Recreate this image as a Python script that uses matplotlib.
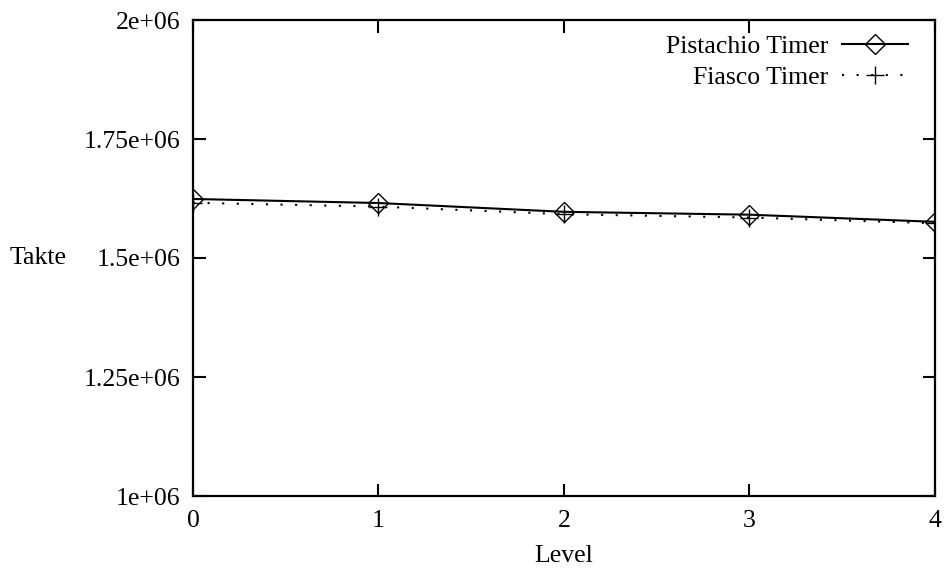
import matplotlib
matplotlib.use("Agg")
import matplotlib.pyplot as plt

# Data
levels = [0, 1, 2, 3, 4]
pistachio = [1.624e6, 1.6155e6, 1.597e6, 1.591e6, 1.576e6]
fiasco = [1.616e6, 1.608e6, 1.592e6, 1.585e6, 1.573e6]
yticks = [1.0e6, 1.25e6, 1.5e6, 1.75e6, 2.0e6]
ytick_labels = ["1e+06", "1.25e+06", "1.5e+06", "1.75e+06", "2e+06"]

plt.rcParams["font.family"] = ["Liberation Serif", "DejaVu Serif"]
plt.rcParams["font.size"] = 18.5

fig = plt.figure(figsize=(9.45, 5.7), dpi=100)
ax = fig.add_axes([193 / 945, 1 - 496 / 570, (935 - 193) / 945, (496 - 20) / 570])

ax.plot(levels, pistachio, "-", color="black", lw=1.5, marker="D", markersize=10,
        markerfacecolor="none", markeredgecolor="black", markeredgewidth=1.0,
        label="Pistachio Timer")
ax.plot(levels, fiasco, linestyle=(0, (1, 6)), color="black", lw=1.5, marker="+",
        markersize=13, markeredgewidth=1.0, label="Fiasco Timer")

ax.set_xlim(0, 4)
ax.set_ylim(1e6, 2e6)
ax.set_xticks(levels)
ax.set_yticks(yticks)
ax.set_yticklabels(ytick_labels)
ax.tick_params(direction="in", length=9, width=1.5, top=True, right=True)
ax.tick_params(axis="y", pad=9)
ax.tick_params(axis="x", pad=10)
for s in ax.spines.values():
    s.set_linewidth(1.6)

ax.set_xlabel("Level", labelpad=9.5)
ax.set_ylabel("Takte", rotation=0, va="center", ha="left")
ax.yaxis.set_label_coords(-183 / 742, 0.5)

ax.legend(loc="upper right", bbox_to_anchor=((908 - 193) / 742, 1 - 15.5 / 476),
          frameon=False, markerfirst=False, handlelength=2.55,
          borderaxespad=0, borderpad=0, labelspacing=0.31, handletextpad=0.55)

fig.savefig("out.png", dpi=100)
